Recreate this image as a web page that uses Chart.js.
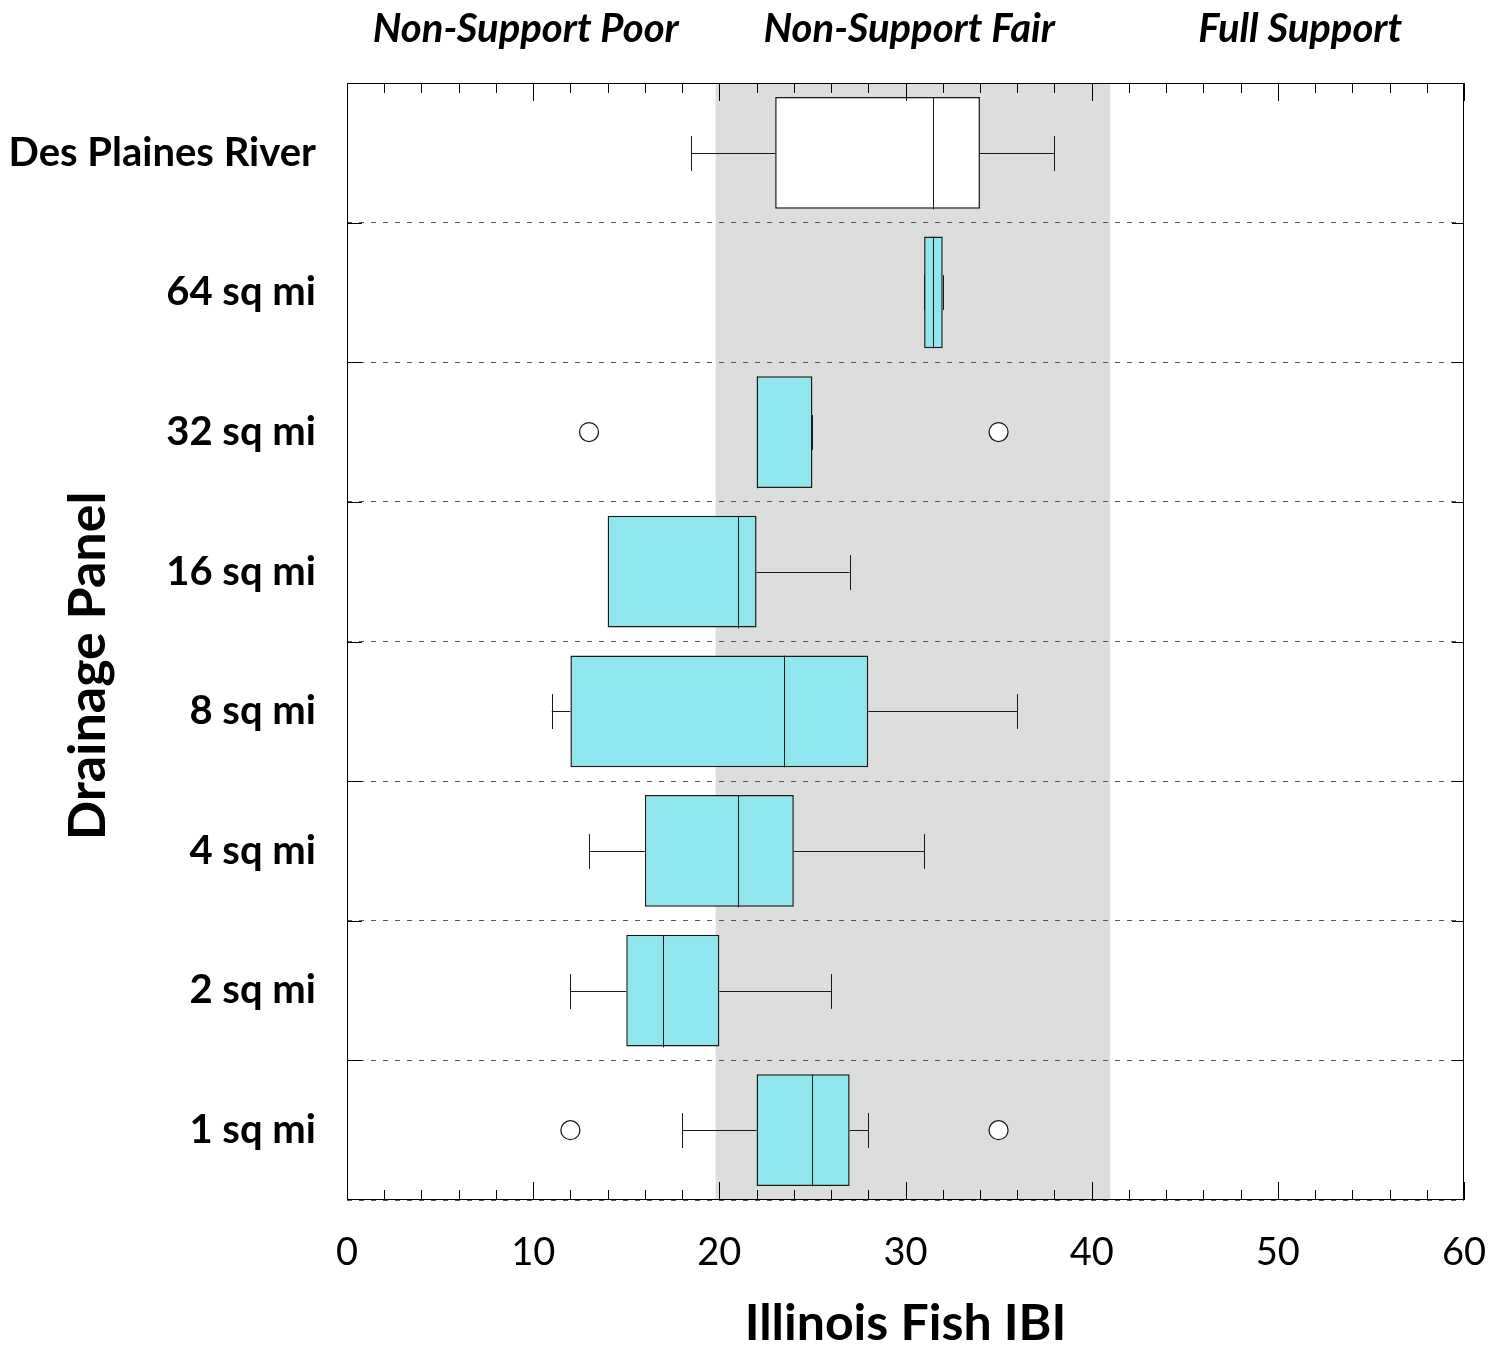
<!DOCTYPE html>
<html>
<head>
<meta charset="utf-8">
<title>Illinois Fish IBI by drainage panel</title>
<script src="https://cdn.jsdelivr.net/npm/chart.js@4/dist/chart.umd.min.js"></script>
<style>
  html, body { margin: 0; padding: 0; background: #fff; }
  #wrap { width: 1493px; height: 1356px; position: relative; }
</style>
</head>
<body>
<div id="wrap"><canvas id="chart"></canvas></div>
<script>
// --- data ---
var categories = ['Des Plaines River', '64 sq mi', '32 sq mi', '16 sq mi', '8 sq mi', '4 sq mi', '2 sq mi', '1 sq mi'];
var whiskerLow  = [18.5, 31, 22, 14, 11, 13, 12, 18];
var q1          = [23,   31, 22, 14, 12, 16, 15, 22];
var median      = [31.5, 31.5, 22, 21, 23.5, 21, 17, 25];
var q3          = [34,   32, 25, 22, 28, 24, 20, 27];
var whiskerHigh = [38,   32, 25, 27, 36, 31, 26, 28];
var outliers    = [[], [], [13, 35], [], [], [], [], [12, 35]];

var xTicks = [0, 10, 20, 30, 40, 50, 60];
var fairZone = [19.8, 41];
var zoneLabels = ['Non-Support Poor', 'Non-Support Fair', 'Full Support'];
var zoneLabelAt = [9.6, 30.2, 51.2];

// --- styling ---
var FONT = 'Lato, "Open Sans", "DejaVu Sans", sans-serif';
var boxFill = categories.map(function (c, i) { return i === 0 ? '#ffffff' : '#8fe6ee'; });
var lineColor = '#1a1a1a';

var outlierPoints = [];
outliers.forEach(function (vals, i) {
  vals.forEach(function (v) { outlierPoints.push({ x: v, y: categories[i] }); });
});

var boxParts = {
  id: 'boxParts',
  beforeDraw: function (chart) {
    var ctx = chart.ctx, a = chart.chartArea, xs = chart.scales.x;
    var x1 = xs.getPixelForValue(fairZone[0]), x2 = xs.getPixelForValue(fairZone[1]);
    ctx.save();
    ctx.fillStyle = '#dcdede';
    ctx.fillRect(x1, a.top, x2 - x1, a.bottom - a.top);
    ctx.restore();
  },
  afterDatasetsDraw: function (chart) {
    var ctx = chart.ctx, a = chart.chartArea;
    var xs = chart.scales.x, ys = chart.scales.y;
    var step = Math.abs(ys.getPixelForValue(1) - ys.getPixelForValue(0));
    var cap = step * 0.125, half = step * 0.4;
    ctx.save();
    ctx.strokeStyle = lineColor;
    ctx.lineWidth = 1;
    categories.forEach(function (c, i) {
      var y = Math.round(ys.getPixelForValue(i)) + 0.5;
      var lo = xs.getPixelForValue(whiskerLow[i]), b1 = xs.getPixelForValue(q1[i]);
      var b3 = xs.getPixelForValue(q3[i]), hi = xs.getPixelForValue(whiskerHigh[i]);
      var m = Math.round(xs.getPixelForValue(median[i])) + 0.5;
      ctx.beginPath();
      ctx.moveTo(lo, y); ctx.lineTo(b1, y);
      ctx.moveTo(b3, y); ctx.lineTo(hi, y);
      ctx.moveTo(Math.round(lo) + 0.5, y - cap); ctx.lineTo(Math.round(lo) + 0.5, y + cap);
      ctx.moveTo(Math.round(hi) + 0.5, y - cap); ctx.lineTo(Math.round(hi) + 0.5, y + cap);
      ctx.moveTo(m, y - half); ctx.lineTo(m, y + half);
      ctx.stroke();
    });

    // frame
    ctx.strokeStyle = '#000';
    ctx.strokeRect(a.left + 0.5, a.top + 0.5, a.right - a.left - 1, a.bottom - a.top - 1);

    // inward tick marks top and bottom, every 2 units
    ctx.beginPath();
    for (var v = 0; v <= 60; v += 2) {
      var px = Math.round(xs.getPixelForValue(v)) + 0.5;
      var len = v % 10 === 0 ? 18 : 10;
      ctx.moveTo(px, a.top); ctx.lineTo(px, a.top + len);
      ctx.moveTo(px, a.bottom); ctx.lineTo(px, a.bottom - len);
    }
    // small solid ticks at the panel boundaries
    for (var k = 1; k < categories.length; k++) {
      var py = Math.round((ys.getPixelForValue(k - 1) + ys.getPixelForValue(k)) / 2) + 0.5;
      ctx.moveTo(a.left, py); ctx.lineTo(a.left + 15, py);
      ctx.moveTo(a.right, py); ctx.lineTo(a.right - 12, py);
    }
    ctx.stroke();

    // zone labels above the plot
    ctx.fillStyle = '#000';
    ctx.font = 'italic bold 40px ' + FONT;
    ctx.textAlign = 'center';
    ctx.textBaseline = 'middle';
    zoneLabels.forEach(function (t, i) {
      ctx.fillText(t, xs.getPixelForValue(zoneLabelAt[i]), 29);
    });

    // y axis title
    ctx.translate(88, 666);
    ctx.rotate(-Math.PI / 2);
    ctx.font = 'bold 52px ' + FONT;
    ctx.fillText('Drainage Panel', 0, 0);
    ctx.restore();
  }
};

new Chart(document.getElementById('chart').getContext('2d'), {
  type: 'bar',
  data: {
    labels: categories,
    datasets: [{
      type: 'scatter',
      indexAxis: 'y',
      data: outlierPoints,
      pointRadius: 9.5,
      pointBackgroundColor: '#ffffff',
      pointBorderColor: lineColor,
      pointBorderWidth: 1.3,
      order: 0
    }, {
      data: categories.map(function (c, i) { return [q1[i], q3[i]]; }),
      backgroundColor: boxFill,
      borderColor: lineColor,
      borderWidth: 1.5,
      borderSkipped: false,
      barPercentage: 0.8,
      categoryPercentage: 1,
      order: 1
    }]
  },
  options: {
    indexAxis: 'y',
    responsive: true,
    maintainAspectRatio: false,
    animation: false,
    layout: { padding: { top: 83, right: 29, left: 0, bottom: 0 } },
    plugins: { legend: { display: false }, tooltip: { enabled: false } },
    scales: {
      x: {
        type: 'linear',
        min: 0, max: 60,
        afterBuildTicks: function (s) { s.ticks = xTicks.map(function (v) { return { value: v }; }); },
        afterFit: function (s) { s.height = 156; s.paddingLeft = 0; s.paddingRight = 0; },
        grid: { display: false, drawTicks: false },
        border: { display: false },
        ticks: { color: '#000', padding: 30, font: { family: FONT, size: 38 } },
        title: { display: true, text: 'Illinois Fish IBI', color: '#000', padding: { top: 0, bottom: 2 }, font: { family: FONT, size: 50, weight: 'bold' } }
      },
      y: {
        type: 'category',
        offset: true,
        afterFit: function (s) { s.width = 347; s.paddingTop = 0; s.paddingBottom = 0; },
        grid: {
          offset: true,
          drawTicks: false,
          lineWidth: 1,
          // the outer panel edges are part of the solid frame
          color: function (c) { return (c.index === 0 || c.index >= categories.length) ? 'rgba(0,0,0,0)' : '#555'; }
        },
        border: { display: false, dash: [5, 7] },
        ticks: { color: '#000', padding: 31, font: { family: FONT, size: 40, weight: 'bold' } }
      }
    }
  },
  plugins: [boxParts]
});
</script>
</body>
</html>
